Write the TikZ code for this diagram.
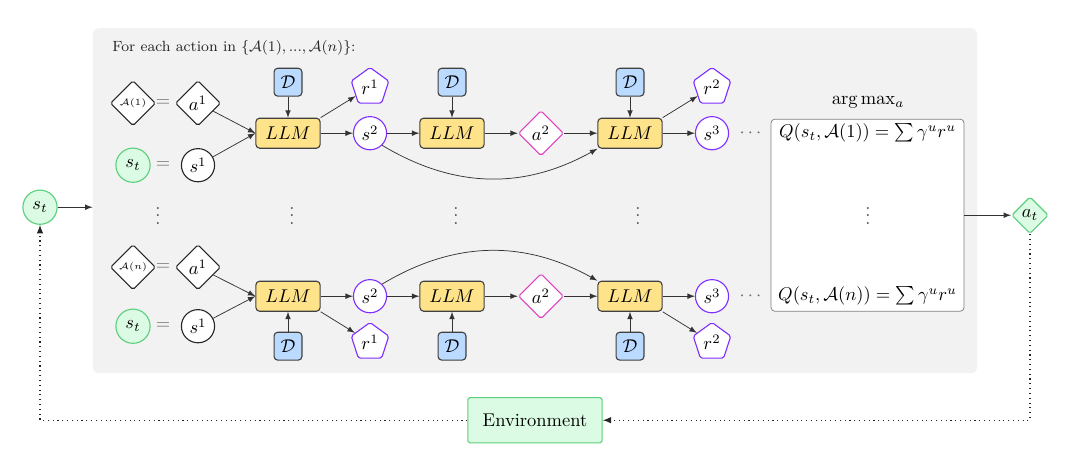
\documentclass[tikz,border=0pt]{standalone}
\usepackage{amsmath}
\usepackage{xcolor}
\usepackage{tikz}
\usetikzlibrary{arrows,shapes,backgrounds,calc}

\definecolor{llmyellow}{HTML}{FFE38A}
\definecolor{dblue}{HTML}{BBDAFF}
\definecolor{sgreen}{HTML}{DBFBE4}
\definecolor{sgreenline}{HTML}{5BCF7B}
\definecolor{rviolet}{HTML}{7F2FFF}
\definecolor{amagenta}{HTML}{E040C0}
\definecolor{panelgray}{HTML}{F2F2F2}

\begin{document}
\begin{tikzpicture}[
    >=latex,
    panelbox/.style={fill=panelgray, rounded corners=3pt, minimum width=16.8cm, minimum height=6.555cm, inner sep=0pt},
    llmbox/.style={draw=black!75, fill=llmyellow, rounded corners=2pt, minimum width=1.22cm, minimum height=0.57cm, inner sep=0pt, semithick},
    databox/.style={draw=black!75, fill=dblue, rounded corners=2pt, minimum size=0.53cm, inner sep=0pt, semithick},
    statenode/.style={circle, draw=black!85, fill=white, minimum size=0.63cm, inner sep=0pt, semithick},
    newstate/.style={statenode, draw=rviolet},
    actnode/.style={diamond, draw=black!85, fill=white, minimum size=0.86cm, inner sep=0pt, rounded corners=1pt, semithick},
    newact/.style={actnode, draw=amagenta},
    rewardnode/.style={regular polygon, regular polygon sides=5, draw=rviolet, fill=white, minimum size=0.75cm, inner sep=0pt, rounded corners=1pt, semithick},
    greenstate/.style={circle, draw=sgreenline, fill=sgreen, minimum size=0.65cm, inner sep=0pt, semithick},
    greenact/.style={diamond, draw=sgreenline, fill=sgreen, minimum size=0.7cm, inner sep=0pt, rounded corners=1pt, semithick},
    envbox/.style={draw=sgreenline, fill=sgreen, minimum width=2.55cm, minimum height=0.86cm, rounded corners=1pt, semithick},
    eqsign/.style={text=black!55},
    flow/.style={->, black!80},
    feedback/.style={->, black!85, dotted, line width=0.6pt}
]
    \useasboundingbox (0,0) rectangle (20.52,8.63);

    % Background panel
    \node[panelbox] (panel) at (10.165,4.817) {};
    \node[anchor=west, font=\footnotesize, text=black!85, inner sep=0pt] (title) at (2.128,7.714) {For each action in $\{\mathcal{A}(1), ..., \mathcal{A}(n)\}$:};

    % First action
    \node[actnode, font=\tiny] (A1) at (2.527,6.669) {$\mathcal{A}(1)$};
    \node[eqsign] (eqa1) at (3.097,6.669) {$=$};
    \node[actnode] (a1a) at (3.762,6.669) {$a^1$};
    \node[greenstate] (st1) at (2.527,5.491) {$s_t$};
    \node[eqsign] (eqs1) at (3.097,5.491) {$=$};
    \node[statenode] (s1a) at (3.762,5.491) {$s^1$};
    \node[databox] (d1a) at (5.472,7.068) {$\mathcal{D}$};
    \node[llmbox] (llm1a) at (5.472,6.099) {$LLM$};
    \node[rewardnode] (r1a) at (7.03,6.973) {$r^1$};
    \node[newstate] (s2a) at (7.03,6.099) {$s^2$};
    \node[databox] (d2a) at (8.588,7.068) {$\mathcal{D}$};
    \node[llmbox] (llm2a) at (8.588,6.099) {$LLM$};
    \node[newact] (a2a) at (10.279,6.099) {$a^2$};
    \node[databox] (d3a) at (11.97,7.068) {$\mathcal{D}$};
    \node[llmbox] (llm3a) at (11.97,6.099) {$LLM$};
    \node[rewardnode] (r2a) at (13.528,6.973) {$r^2$};
    \node[newstate] (s3a) at (13.528,6.099) {$s^3$};
    \node[text=black!60] (moa) at (14.288,6.099) {$\cdots$};

    \draw[flow] (a1a) -- (llm1a.west);
    \draw[flow] (s1a) -- (llm1a.west);
    \draw[flow] (d1a) -- (llm1a);
    \draw[flow] (llm1a.north east) -- (r1a);
    \draw[flow] (llm1a) -- (s2a);
    \draw[flow] (s2a) -- (llm2a);
    \draw[flow] (d2a) -- (llm2a);
    \draw[flow] (llm2a) -- (a2a);
    \draw[flow] (a2a) -- (llm3a);
    \draw[flow] (d3a) -- (llm3a);
    \draw[flow] (s2a.south east) to[bend right=30] (llm3a.south west);
    \draw[flow] (llm3a.north east) -- (r2a);
    \draw[flow] (llm3a) -- (s3a);

    % Vertical dots
    \node[text=black!70] (vd1) at (3.002,4.636) {$\vdots$};
    \node[text=black!70] (vd2) at (5.548,4.636) {$\vdots$};
    \node[text=black!70] (vd3) at (8.664,4.636) {$\vdots$};
    \node[text=black!70] (vd4) at (12.122,4.636) {$\vdots$};

    % Last action
    \node[actnode, font=\tiny] (An) at (2.527,3.553) {$\mathcal{A}(n)$};
    \node[eqsign] (eqan) at (3.097,3.553) {$=$};
    \node[actnode] (a1b) at (3.762,3.553) {$a^1$};
    \node[greenstate] (st2) at (2.527,2.432) {$s_t$};
    \node[eqsign] (eqs2) at (3.097,2.432) {$=$};
    \node[statenode] (s1b) at (3.762,2.432) {$s^1$};
    \node[llmbox] (llm1b) at (5.472,3.002) {$LLM$};
    \node[databox] (d1b) at (5.472,2.052) {$\mathcal{D}$};
    \node[newstate] (s2b) at (7.03,3.002) {$s^2$};
    \node[rewardnode] (r1b) at (7.03,2.128) {$r^1$};
    \node[llmbox] (llm2b) at (8.588,3.002) {$LLM$};
    \node[databox] (d2b) at (8.588,2.052) {$\mathcal{D}$};
    \node[newact] (a2b) at (10.279,3.002) {$a^2$};
    \node[llmbox] (llm3b) at (11.97,3.002) {$LLM$};
    \node[databox] (d3b) at (11.97,2.052) {$\mathcal{D}$};
    \node[newstate] (s3b) at (13.528,3.002) {$s^3$};
    \node[rewardnode] (r2b) at (13.528,2.128) {$r^2$};
    \node[text=black!60] (mob) at (14.288,3.002) {$\cdots$};

    \draw[flow] (a1b) -- (llm1b.west);
    \draw[flow] (s1b) -- (llm1b.west);
    \draw[flow] (d1b) -- (llm1b);
    \draw[flow] (llm1b.south east) -- (r1b);
    \draw[flow] (llm1b) -- (s2b);
    \draw[flow] (s2b) -- (llm2b);
    \draw[flow] (d2b) -- (llm2b);
    \draw[flow] (llm2b) -- (a2b);
    \draw[flow] (a2b) -- (llm3b);
    \draw[flow] (d3b) -- (llm3b);
    \draw[flow] (s2b.north east) to[bend left=30] (llm3b.north west);
    \draw[flow] (llm3b.south east) -- (r2b);
    \draw[flow] (llm3b) -- (s3b);

    % Q values
    \node[draw=black!50, fill=white, rounded corners=2pt, minimum width=3.667cm, minimum height=3.648cm] (qbox) at (16.483,4.541) {};
    \node (argmax) at (16.492,6.688) {$\arg\max_a$};
    \node (q1) at (16.483,6.099) {$Q(s_t, \mathcal{A}(1)) = \sum \gamma^u r^u$};
    \node[text=black!70] (qdots) at (16.492,4.636) {$\vdots$};
    \node (qn) at (16.483,3.002) {$Q(s_t, \mathcal{A}(n)) = \sum \gamma^u r^u$};

    % State in, action out
    \node[greenstate] (st0) at (0.76,4.693) {$s_t$};
    \node[greenact] (at) at (19.57,4.541) {$a_t$};
    \node[envbox] (env) at (10.165,0.646) {Environment};

    \draw[flow] (st0.east) -- (st0.east -| panel.west);
    \draw[flow] (qbox.east) -- (at);
    \draw[feedback] (at.south) |- (env.east);
    \draw[feedback] (env.west) -| (st0.south);
\end{tikzpicture}
\end{document}
